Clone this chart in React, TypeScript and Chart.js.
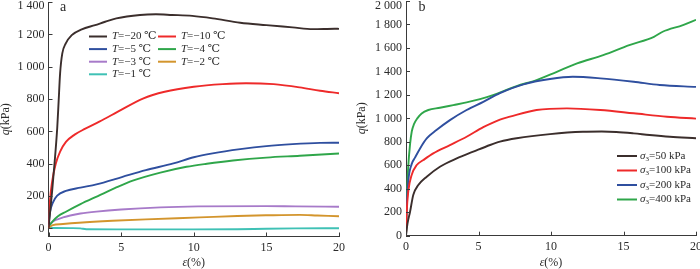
import React, { useEffect, useRef } from "react";
import { Chart, registerables } from "chart.js";
Chart.register(...registerables);

// ---------- Panel a: q vs strain at different temperatures ----------
const tempLabels = ["−20", "−10", "−5", "−4", "−3", "−2", "−1"];

const epsTm20 = [0, 0.25, 0.45, 0.6, 0.7, 0.8, 0.95, 1.19, 1.6, 2.29, 3.21, 3.9, 4.67, 6.3, 7.4, 8.5, 9.9, 11.3, 13.2, 15, 16.8, 18.2, 19.7, 20];
const qTm20 = [0, 230, 440, 620, 790, 960, 1082, 1144, 1195, 1231, 1257, 1278, 1299, 1320, 1324, 1320, 1314, 1299, 1272, 1257, 1243, 1232, 1235, 1234];

const epsTm10 = [0, 0.1, 0.25, 0.5, 0.8, 1.2, 1.8, 2.5, 3.5, 5, 6.5, 8, 10, 12, 13.6, 15.5, 17.3, 18.7, 20];
const qTm10 = [0, 170, 290, 400, 475, 535, 580, 615, 660, 733, 803, 845, 876, 892, 898, 892, 872, 851, 836];

const epsTm5 = [0, 0.1, 0.3, 0.6, 1.2, 2.2, 3.3, 5.1, 6.7, 8.6, 10, 11.3, 13.2, 15, 16.8, 18.7, 20];
const qTm5 = [20, 100, 160, 203, 232, 252, 272, 319, 360, 402, 440, 464, 490, 509, 521, 529, 530];

const epsTm4 = [0, 0.3, 0.65, 1.2, 2.2, 3.4, 4.6, 5.8, 7.7, 9.5, 10.9, 12.7, 15, 17.3, 20];
const qTm4 = [12, 45, 75, 103, 150, 200, 250, 295, 345, 381, 400, 420, 438, 449, 463];

const epsTm3 = [0, 0.2, 0.5, 1, 1.5, 2.2, 3.3, 5, 7.7, 10.3, 15, 17, 20];
const qTm3 = [15, 35, 52, 68, 80, 92, 104, 117, 130, 136, 138, 136, 134];

const epsTm2 = [0, 0.3, 1, 2.1, 4.4, 6.7, 10.4, 13, 15, 17.3, 18.5, 20];
const qTm2 = [5, 20, 27, 35, 47, 56, 68, 77, 81, 84, 80, 75];

const epsTm1 = [0, 0.5, 1.5, 2.2, 2.6, 5, 8, 10, 13, 15, 17, 20];
const qTm1 = [2, 3, 2, 0, -5, -6, -6, -6, -5, -2, 0, 1];

// ---------- Panel b: q vs strain at different confining pressures ----------
const sigma3Labels = ["50", "100", "200", "400"];

const eps50 = [0, 0.1, 0.28, 0.5, 0.85, 1.43, 2.34, 3.5, 4.64, 5.8, 6.48, 7.63, 9.93, 12.2, 13.5, 14.5, 15.7, 16.8, 18.2, 20];
const q50 = [0, 100, 204, 347, 432, 503, 588, 659, 716, 773, 801, 830, 866, 886, 888, 884, 872, 858, 843, 830];

const eps100 = [0, 0.05, 0.16, 0.39, 0.74, 1.2, 1.88, 3.03, 4.18, 5.33, 6.48, 7.17, 9, 11.1, 13.4, 15.7, 18, 20];
const q100 = [0, 200, 380, 517, 602, 645, 702, 772, 843, 925, 990, 1014, 1071, 1085, 1071, 1043, 1014, 998];

const eps200 = [0, 0.05, 0.16, 0.39, 0.62, 0.97, 1.43, 2.1, 3.03, 4.18, 5.33, 6.48, 8.1, 9.93, 11.5, 13.4, 15.7, 17.5, 20];
const q200 = [0, 250, 470, 610, 665, 744, 829, 900, 985, 1071, 1141, 1215, 1290, 1335, 1354, 1341, 1312, 1284, 1268];

const eps400 = [0, 0.05, 0.15, 0.28, 0.4, 0.55, 0.78, 1.08, 1.54, 2.34, 3.26, 4.18, 5.1, 6, 7.63, 9, 10.4, 11.8, 13.6, 15.4, 17.1, 17.7, 19.1, 20];
const q400 = [0, 300, 580, 780, 890, 950, 1000, 1042, 1071, 1090, 1113, 1136, 1164, 1198, 1275, 1326, 1397, 1468, 1539, 1624, 1695, 1738, 1795, 1840];

// ---------- axis ticks ----------
const xTickValues = [0, 5, 10, 15, 20];
const yTicksA = [0, 200, 400, 600, 800, 1000, 1200, 1400];
const yTicksB = [0, 200, 400, 600, 800, 1000, 1200, 1400, 1600, 1800, 2000];

const SERIF = "'Liberation Serif','Times New Roman','DejaVu Serif','Noto Sans CJK SC',serif";
const TEXT = "#2b2b2b";
const AXIS = "#3a3a3a";

const coloursA = ["#3b2e2c", "#ee2a2a", "#2f4f9f", "#2fa64a", "#a77ac9", "#d3952d", "#3fc1b5"];
const coloursB = ["#3b2e2c", "#ee2a2a", "#2f4f9f", "#2fa64a"];

type Part = { t: string; it?: boolean; sub?: boolean };

function drawRich(ctx: CanvasRenderingContext2D, parts: Part[], x: number, y: number, size: number, align: string) {
  ctx.save();
  ctx.textBaseline = "middle";
  ctx.textAlign = "left";
  ctx.fillStyle = TEXT;
  const fontOf = (p: Part) => `${p.it ? "italic " : ""}${p.sub ? Math.round(size * 0.68) : size}px ${SERIF}`;
  let total = 0;
  const widths = parts.map((p) => {
    ctx.font = fontOf(p);
    const w = ctx.measureText(p.t).width;
    total += w;
    return w;
  });
  let cx = align === "center" ? x - total / 2 : align === "right" ? x - total : x;
  parts.forEach((p, i) => {
    ctx.font = fontOf(p);
    ctx.fillText(p.t, cx, p.sub ? y + size * 0.28 : y);
    cx += widths[i];
  });
  ctx.restore();
}

function fmt(v: number) {
  if (v >= 1000) return `${Math.floor(v / 1000)} ${String(v % 1000).padStart(3, "0")}`;
  return String(v);
}

function toPts(xs: number[], ys: number[]) {
  return xs.map((x, i) => ({ x, y: ys[i] }));
}

type LegendItem = { parts: Part[]; color: string; x1: number; x2: number; tx: number; y: number };

type PanelCfg = {
  datasets: any[];
  yMin: number;
  yMax: number;
  yTicks: number[];
  left: number;
  right: number;
  top: number;
  xAxisH: number;
  letter: string;
  letterX: number;
  yTitleX: number;
  legend: LegendItem[];
  legendSize: number;
};

function buildChart(canvas: HTMLCanvasElement, cfg: PanelCfg) {
  const overlay = {
    id: "overlay",
    beforeDraw(chart: any) {
      const ys = chart.scales.y;
      try {
        const items = ys.getLabelItems(chart.chartArea);
        items.forEach((it: any) => {
          if (it.options && it.options.translation && it.options.translation[1] < 5.5) {
            it.options.translation = [it.options.translation[0], 5.5];
          }
        });
      } catch (e) {
        /* ignore */
      }
    },
    afterDraw(chart: any) {
      const ctx: CanvasRenderingContext2D = chart.ctx;
      const a = chart.chartArea;
      const xs = chart.scales.x;
      const ys = chart.scales.y;
      ctx.save();
      ctx.strokeStyle = AXIS;
      ctx.lineWidth = 1;
      ctx.beginPath();
      ys.ticks.forEach((t: any) => {
        const py = Math.round(ys.getPixelForValue(t.value)) + 0.5;
        ctx.moveTo(a.left, py);
        ctx.lineTo(a.left + 4, py);
      });
      xs.ticks.forEach((t: any) => {
        const px = Math.round(xs.getPixelForValue(t.value)) + 0.5;
        ctx.moveTo(px, a.bottom);
        ctx.lineTo(px, a.bottom - 4);
      });
      ctx.stroke();
      ctx.restore();

      // axis titles
      drawRich(ctx, [{ t: "ε", it: true }, { t: "(%)" }], (a.left + a.right) / 2, 263, 12, "center");
      ctx.save();
      ctx.translate(cfg.yTitleX, (a.top + a.bottom) / 2);
      ctx.rotate(-Math.PI / 2);
      drawRich(ctx, [{ t: "q", it: true }, { t: "(kPa)" }], 0, 0, 12, "center");
      ctx.restore();

      // panel letter
      drawRich(ctx, [{ t: cfg.letter }], cfg.letterX, 7, 14, "center");

      // legend
      cfg.legend.forEach((li) => {
        ctx.save();
        ctx.strokeStyle = li.color;
        ctx.lineWidth = 2;
        ctx.beginPath();
        ctx.moveTo(li.x1, li.y);
        ctx.lineTo(li.x2, li.y);
        ctx.stroke();
        ctx.restore();
        drawRich(ctx, li.parts, li.tx, li.y, cfg.legendSize, "left");
      });
    },
  };

  return new Chart(canvas, {
    type: "line",
    data: { datasets: cfg.datasets },
    options: {
      responsive: false,
      animation: false,
      devicePixelRatio: 1,
      maintainAspectRatio: false,
      layout: { padding: { left: 0, right: 350 - cfg.right, top: cfg.top, bottom: 0 } },
      plugins: { legend: { display: false }, tooltip: { enabled: false }, title: { display: false } },
      elements: { point: { radius: 0 }, line: { borderWidth: 1.9, cubicInterpolationMode: "monotone" } },
      scales: {
        x: {
          type: "linear",
          min: 0,
          max: 20,
          grid: { display: false, drawTicks: false },
          border: { display: true, color: AXIS, width: 1 },
          ticks: {
            padding: 4,
            color: TEXT,
            font: { family: SERIF, size: 12 },
            maxRotation: 0,
            autoSkip: false,
            callback: (v: any) => String(v),
          },
          afterBuildTicks: (s: any) => {
            s.ticks = xTickValues.map((v) => ({ value: v }));
          },
          afterFit: (s: any) => {
            s.height = cfg.xAxisH;
            s.paddingLeft = 0;
            s.paddingRight = 0;
          },
        },
        y: {
          type: "linear",
          min: cfg.yMin,
          max: cfg.yMax,
          grid: { display: false, drawTicks: false },
          border: { display: true, color: AXIS, width: 1 },
          ticks: {
            padding: 4,
            color: TEXT,
            font: { family: SERIF, size: 12 },
            autoSkip: false,
            callback: (v: any) => fmt(Number(v)),
          },
          afterBuildTicks: (s: any) => {
            s.ticks = cfg.yTicks.map((v) => ({ value: v }));
          },
          afterFit: (s: any) => {
            s.width = cfg.left;
            s.paddingTop = 0;
            s.paddingBottom = 0;
          },
        },
      },
    } as any,
    plugins: [overlay as any],
  });
}

export default function App() {
  const refA = useRef<HTMLCanvasElement>(null);
  const refB = useRef<HTMLCanvasElement>(null);

  useEffect(() => {
    const seriesA = [
      [epsTm20, qTm20],
      [epsTm10, qTm10],
      [epsTm5, qTm5],
      [epsTm4, qTm4],
      [epsTm3, qTm3],
      [epsTm2, qTm2],
      [epsTm1, qTm1],
    ];
    const dsA = seriesA.map(([e, q], i) => ({
      label: `T=${tempLabels[i]} ℃`,
      data: toPts(e, q),
      borderColor: coloursA[i],
      backgroundColor: coloursA[i],
      fill: false,
    }));
    const legendA: LegendItem[] = tempLabels.map((t, i) => {
      const col = i % 2;
      const row = Math.floor(i / 2);
      const x1 = col === 0 ? 89 : 158;
      return {
        parts: [{ t: "T", it: true }, { t: `=${t} ℃` }],
        color: coloursA[i],
        x1,
        x2: x1 + 18,
        tx: x1 + 23,
        y: 36.5 + row * 12.6,
      };
    });

    const seriesB = [
      [eps50, q50],
      [eps100, q100],
      [eps200, q200],
      [eps400, q400],
    ];
    const dsB = seriesB.map(([e, q], i) => ({
      label: `σ3=${sigma3Labels[i]} kPa`,
      data: toPts(e, q),
      borderColor: coloursB[i],
      backgroundColor: coloursB[i],
      fill: false,
    }));
    const legendB: LegendItem[] = sigma3Labels.map((s, i) => ({
      parts: [{ t: "σ", it: true }, { t: "3", sub: true }, { t: `=${s} kPa` }],
      color: coloursB[i],
      x1: 267,
      x2: 287,
      tx: 290,
      y: 156 + i * 14.5,
    }));

    const cA = buildChart(refA.current!, {
      datasets: dsA,
      yMin: -50,
      yMax: 1400,
      yTicks: yTicksA,
      left: 48.5,
      right: 339,
      top: 2,
      xAxisH: 32.5,
      letter: "a",
      letterX: 63,
      yTitleX: 6,
      legend: legendA,
      legendSize: 11,
    });
    const cB = buildChart(refB.current!, {
      datasets: dsB,
      yMin: 0,
      yMax: 2000,
      yTicks: yTicksB,
      left: 56,
      right: 346,
      top: 1,
      xAxisH: 33.3,
      letter: "b",
      letterX: 72,
      yTitleX: 12,
      legend: legendB,
      legendSize: 11,
    });
    return () => {
      cA.destroy();
      cB.destroy();
    };
  }, []);

  return (
    <div style={{ position: "absolute", left: 0, top: 0, width: 700, height: 269, background: "#fff", display: "flex" }}>
      <canvas ref={refA} width={350} height={269} style={{ display: "block", width: 350, height: 269 }} />
      <canvas ref={refB} width={350} height={269} style={{ display: "block", width: 350, height: 269 }} />
    </div>
  );
}
